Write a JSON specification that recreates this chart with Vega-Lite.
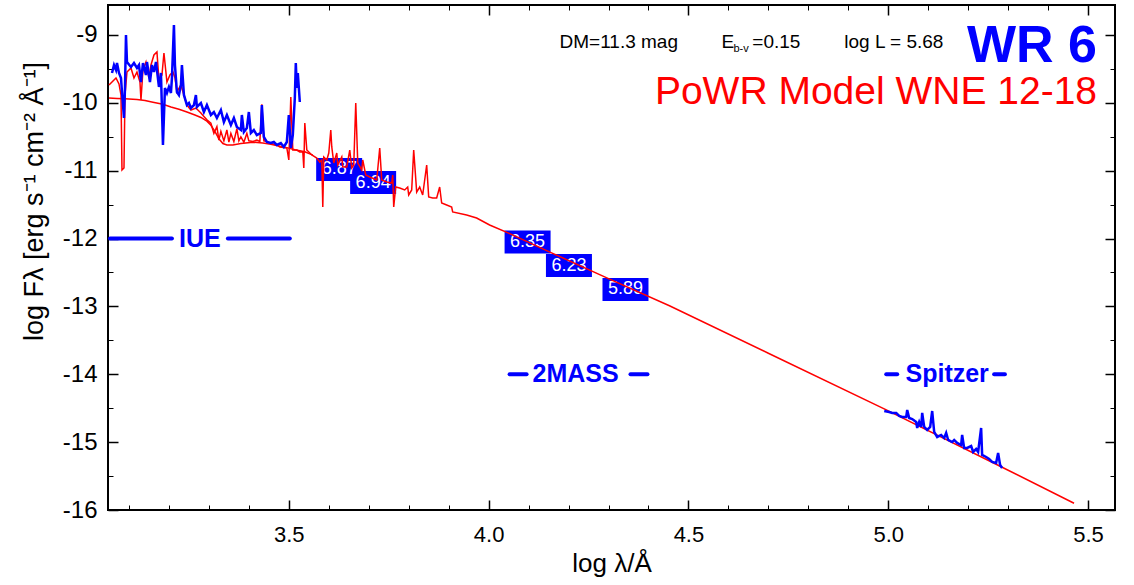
{
  "$schema": "https://vega.github.io/schema/vega-lite/v6.json",
  "width": 1007,
  "height": 505,
  "autosize": {"type": "none"},
  "padding": {"left": 108, "top": 5, "right": 19, "bottom": 75},
  "background": "white",
  "config": {
    "font": "Liberation Sans",
    "view": {"stroke": "#000000", "strokeWidth": 2},
    "axis": {"grid": false, "domain": false, "tickColor": "#000000", "labelColor": "#000000", "titleColor": "#000000", "labelFont": "Liberation Sans", "titleFont": "Liberation Sans"}
  },
  "datasets": {
    "cont": [
      {"x": 3.05, "y": -9.93}, {"x": 3.07, "y": -9.935}, {"x": 3.09, "y": -9.94}, {"x": 3.12, "y": -9.95},
      {"x": 3.14, "y": -9.965}, {"x": 3.16, "y": -9.99}, {"x": 3.185, "y": -10.02}, {"x": 3.205, "y": -10.06},
      {"x": 3.225, "y": -10.095}, {"x": 3.245, "y": -10.135}, {"x": 3.265, "y": -10.18}, {"x": 3.28, "y": -10.215},
      {"x": 3.295, "y": -10.27}, {"x": 3.305, "y": -10.33}, {"x": 3.315, "y": -10.42}, {"x": 3.325, "y": -10.53},
      {"x": 3.335, "y": -10.6}, {"x": 3.345, "y": -10.62}, {"x": 3.36, "y": -10.62}, {"x": 3.38, "y": -10.6},
      {"x": 3.41, "y": -10.58}, {"x": 3.435, "y": -10.59}, {"x": 3.455, "y": -10.61}, {"x": 3.475, "y": -10.635},
      {"x": 3.495, "y": -10.66}, {"x": 3.515, "y": -10.69}, {"x": 3.54, "y": -10.72}, {"x": 3.56, "y": -10.77}
    ],
    "model": [
      {"x": 3.05, "y": -9.737}, {"x": 3.0575, "y": -9.693}, {"x": 3.0675, "y": -9.634}, {"x": 3.075, "y": -9.722},
      {"x": 3.08, "y": -9.884}, {"x": 3.0825, "y": -10.989}, {"x": 3.0875, "y": -10.96}, {"x": 3.09, "y": -9.884},
      {"x": 3.095, "y": -9.545}, {"x": 3.105, "y": -9.486}, {"x": 3.1125, "y": -9.634}, {"x": 3.12, "y": -9.545},
      {"x": 3.1275, "y": -9.693}, {"x": 3.13, "y": -9.958}, {"x": 3.135, "y": -9.516}, {"x": 3.1425, "y": -9.398},
      {"x": 3.15, "y": -9.634}, {"x": 3.155, "y": -9.442}, {"x": 3.1625, "y": -9.295}, {"x": 3.17, "y": -9.25},
      {"x": 3.175, "y": -9.663}, {"x": 3.1825, "y": -9.59}, {"x": 3.1875, "y": -9.265}, {"x": 3.195, "y": -9.693},
      {"x": 3.2025, "y": -9.59}, {"x": 3.21, "y": -9.545}, {"x": 3.215, "y": -9.63}, {"x": 3.22, "y": -9.84},
      {"x": 3.23, "y": -9.737}, {"x": 3.2375, "y": -9.884}, {"x": 3.245, "y": -10.032}, {"x": 3.255, "y": -10.105},
      {"x": 3.2675, "y": -10.076}, {"x": 3.28, "y": -10.15}, {"x": 3.2875, "y": -10.2}, {"x": 3.295, "y": -10.25},
      {"x": 3.305, "y": -10.3}, {"x": 3.3125, "y": -10.45}, {"x": 3.32, "y": -10.35}, {"x": 3.325, "y": -10.55},
      {"x": 3.33, "y": -10.42}, {"x": 3.3375, "y": -10.56}, {"x": 3.345, "y": -10.4}, {"x": 3.35, "y": -10.58},
      {"x": 3.355, "y": -10.45}, {"x": 3.3625, "y": -10.57}, {"x": 3.37, "y": -10.38}, {"x": 3.375, "y": -10.56},
      {"x": 3.38, "y": -10.5}, {"x": 3.3875, "y": -10.58}, {"x": 3.395, "y": -10.45}, {"x": 3.4, "y": -10.56},
      {"x": 3.41, "y": -10.57}, {"x": 3.42, "y": -10.55}, {"x": 3.4275, "y": -10.57}, {"x": 3.4325, "y": -10.02},
      {"x": 3.4375, "y": -10.56}, {"x": 3.445, "y": -10.57}, {"x": 3.455, "y": -10.6}, {"x": 3.47, "y": -10.62},
      {"x": 3.4775, "y": -10.65}, {"x": 3.495, "y": -10.665}, {"x": 3.5, "y": -10.842}, {"x": 3.505, "y": -9.914},
      {"x": 3.51, "y": -10.695}, {"x": 3.52, "y": -10.695}, {"x": 3.5275, "y": -10.724}, {"x": 3.535, "y": -10.724},
      {"x": 3.5375, "y": -10.96}, {"x": 3.54, "y": -10.297}, {"x": 3.545, "y": -10.695}, {"x": 3.5575, "y": -10.768},
      {"x": 3.57, "y": -10.813}, {"x": 3.5775, "y": -10.872}, {"x": 3.5825, "y": -10.842}, {"x": 3.585, "y": -11.535},
      {"x": 3.5875, "y": -10.798}, {"x": 3.595, "y": -10.842}, {"x": 3.6, "y": -10.739}, {"x": 3.605, "y": -10.4},
      {"x": 3.6075, "y": -10.65}, {"x": 3.6125, "y": -10.886}, {"x": 3.62, "y": -10.739}, {"x": 3.6225, "y": -10.916},
      {"x": 3.6325, "y": -10.798}, {"x": 3.635, "y": -10.945}, {"x": 3.645, "y": -10.945}, {"x": 3.6525, "y": -10.695},
      {"x": 3.6575, "y": -10.96}, {"x": 3.6625, "y": -10.916}, {"x": 3.6675, "y": -10.002}, {"x": 3.6725, "y": -10.886},
      {"x": 3.6825, "y": -10.989}, {"x": 3.685, "y": -10.842}, {"x": 3.6925, "y": -11.063}, {"x": 3.7025, "y": -11.093},
      {"x": 3.72, "y": -11.137}, {"x": 3.7275, "y": -10.665}, {"x": 3.7325, "y": -11.137}, {"x": 3.745, "y": -11.166},
      {"x": 3.7575, "y": -11.181}, {"x": 3.76, "y": -11.063}, {"x": 3.7625, "y": -11.535}, {"x": 3.7675, "y": -11.24},
      {"x": 3.7775, "y": -11.255}, {"x": 3.79, "y": -11.284}, {"x": 3.7975, "y": -11.24}, {"x": 3.8, "y": -11.358},
      {"x": 3.8075, "y": -11.284}, {"x": 3.8125, "y": -10.695}, {"x": 3.82, "y": -11.314}, {"x": 3.8275, "y": -11.24},
      {"x": 3.835, "y": -11.358}, {"x": 3.845, "y": -10.916}, {"x": 3.85, "y": -11.387}, {"x": 3.86, "y": -11.402},
      {"x": 3.87, "y": -11.402}, {"x": 3.8775, "y": -11.24}, {"x": 3.8825, "y": -11.476}, {"x": 3.895, "y": -11.505},
      {"x": 3.9075, "y": -11.535}, {"x": 3.91, "y": -11.608}, {"x": 3.945, "y": -11.652}, {"x": 3.97, "y": -11.697},
      {"x": 4.0025, "y": -11.8}, {"x": 4.05, "y": -11.92}, {"x": 4.1575, "y": -12.21}, {"x": 4.3, "y": -12.59},
      {"x": 4.4525, "y": -12.99}, {"x": 4.7, "y": -13.69}, {"x": 4.99, "y": -14.51}, {"x": 5.285, "y": -15.37},
      {"x": 5.465, "y": -15.9}
    ],
    "iue": [
      {"x": 3.0575, "y": -9.56}, {"x": 3.0625, "y": -9.442}, {"x": 3.0675, "y": -9.516}, {"x": 3.07, "y": -9.413},
      {"x": 3.075, "y": -9.56}, {"x": 3.08, "y": -9.634}, {"x": 3.0825, "y": -9.84}, {"x": 3.0875, "y": -10.223},
      {"x": 3.09, "y": -9.781}, {"x": 3.0925, "y": -9.0}, {"x": 3.095, "y": -9.398}, {"x": 3.105, "y": -9.472},
      {"x": 3.1125, "y": -9.413}, {"x": 3.12, "y": -9.486}, {"x": 3.125, "y": -9.442}, {"x": 3.13, "y": -9.693},
      {"x": 3.135, "y": -9.413}, {"x": 3.1425, "y": -9.59}, {"x": 3.145, "y": -9.398}, {"x": 3.1525, "y": -9.693},
      {"x": 3.1575, "y": -9.442}, {"x": 3.1625, "y": -9.545}, {"x": 3.1675, "y": -9.398}, {"x": 3.17, "y": -9.516},
      {"x": 3.175, "y": -9.766}, {"x": 3.18, "y": -9.56}, {"x": 3.185, "y": -10.621}, {"x": 3.19, "y": -9.781},
      {"x": 3.195, "y": -9.855}, {"x": 3.2, "y": -9.766}, {"x": 3.205, "y": -9.855}, {"x": 3.2075, "y": -9.634},
      {"x": 3.2125, "y": -8.853}, {"x": 3.215, "y": -9.442}, {"x": 3.22, "y": -9.84}, {"x": 3.225, "y": -9.884},
      {"x": 3.23, "y": -9.737}, {"x": 3.2325, "y": -9.442}, {"x": 3.2375, "y": -9.884}, {"x": 3.245, "y": -10.032},
      {"x": 3.25, "y": -10.002}, {"x": 3.255, "y": -10.076}, {"x": 3.2625, "y": -10.032}, {"x": 3.2675, "y": -9.884},
      {"x": 3.27, "y": -10.061}, {"x": 3.28, "y": -10.002}, {"x": 3.2875, "y": -10.135}, {"x": 3.295, "y": -10.032},
      {"x": 3.305, "y": -10.179}, {"x": 3.3125, "y": -10.135}, {"x": 3.32, "y": -10.223}, {"x": 3.33, "y": -10.105},
      {"x": 3.3375, "y": -10.282}, {"x": 3.345, "y": -10.179}, {"x": 3.355, "y": -10.326}, {"x": 3.3625, "y": -10.223},
      {"x": 3.37, "y": -10.356}, {"x": 3.38, "y": -10.4}, {"x": 3.3825, "y": -10.179}, {"x": 3.3875, "y": -10.43},
      {"x": 3.395, "y": -10.37}, {"x": 3.4, "y": -10.135}, {"x": 3.405, "y": -10.444}, {"x": 3.4125, "y": -10.4},
      {"x": 3.42, "y": -10.474}, {"x": 3.43, "y": -10.444}, {"x": 3.4325, "y": -10.032}, {"x": 3.4375, "y": -10.503},
      {"x": 3.445, "y": -10.577}, {"x": 3.455, "y": -10.592}, {"x": 3.4625, "y": -10.577}, {"x": 3.47, "y": -10.621},
      {"x": 3.48, "y": -10.592}, {"x": 3.4875, "y": -10.65}, {"x": 3.495, "y": -10.577}, {"x": 3.5, "y": -10.179},
      {"x": 3.505, "y": -10.665}, {"x": 3.51, "y": -10.474}, {"x": 3.515, "y": -9.928}, {"x": 3.5175, "y": -9.413},
      {"x": 3.52, "y": -9.781}, {"x": 3.5225, "y": -9.56}, {"x": 3.5275, "y": -9.987}
    ],
    "spitzer": [
      {"x": 4.99, "y": -14.541}, {"x": 5.0025, "y": -14.556}, {"x": 5.01, "y": -14.57}, {"x": 5.02, "y": -14.57},
      {"x": 5.0275, "y": -14.614}, {"x": 5.035, "y": -14.629}, {"x": 5.045, "y": -14.629}, {"x": 5.0475, "y": -14.526},
      {"x": 5.0525, "y": -14.644}, {"x": 5.06, "y": -14.659}, {"x": 5.07, "y": -14.703}, {"x": 5.0725, "y": -14.791},
      {"x": 5.0775, "y": -14.703}, {"x": 5.0825, "y": -14.777}, {"x": 5.085, "y": -14.57}, {"x": 5.09, "y": -14.777},
      {"x": 5.0975, "y": -14.821}, {"x": 5.105, "y": -14.777}, {"x": 5.11, "y": -14.541}, {"x": 5.115, "y": -14.85},
      {"x": 5.1225, "y": -14.924}, {"x": 5.1325, "y": -14.894}, {"x": 5.14, "y": -14.939}, {"x": 5.145, "y": -14.865},
      {"x": 5.15, "y": -14.968}, {"x": 5.16, "y": -14.998}, {"x": 5.165, "y": -14.968}, {"x": 5.1725, "y": -15.012},
      {"x": 5.1825, "y": -15.042}, {"x": 5.185, "y": -14.894}, {"x": 5.19, "y": -15.086}, {"x": 5.1975, "y": -15.086},
      {"x": 5.2075, "y": -15.057}, {"x": 5.2125, "y": -15.145}, {"x": 5.22, "y": -15.101}, {"x": 5.225, "y": -15.145},
      {"x": 5.2325, "y": -14.791}, {"x": 5.235, "y": -15.189}, {"x": 5.245, "y": -15.219}, {"x": 5.2525, "y": -15.248},
      {"x": 5.26, "y": -15.292}, {"x": 5.27, "y": -15.307}, {"x": 5.275, "y": -15.16}, {"x": 5.28, "y": -15.337},
      {"x": 5.285, "y": -15.381}
    ],
    "phot": [
      {"x": 3.626, "y": -10.982, "mag": "6.87"},
      {"x": 3.711, "y": -11.174, "mag": "6.94"},
      {"x": 4.0975, "y": -12.05, "mag": "6.35"},
      {"x": 4.201, "y": -12.397, "mag": "6.23"},
      {"x": 4.3425, "y": -12.75, "mag": "5.89"}
    ],
    "segs": [
      {"x1": 3.0525, "x2": 3.2075, "y": -12.0}, {"x1": 3.3475, "x2": 3.5025, "y": -12.0},
      {"x1": 4.0525, "x2": 4.095, "y": -14.0}, {"x1": 4.355, "x2": 4.3975, "y": -14.0},
      {"x1": 4.995, "x2": 5.0225, "y": -14.0}, {"x1": 5.265, "x2": 5.292, "y": -14.0}
    ],
    "insts": [
      {"x": 3.2775, "y": -12.0, "name": "IUE"},
      {"x": 4.2175, "y": -14.0, "name": "2MASS"},
      {"x": 5.1475, "y": -14.0, "name": "Spitzer"}
    ],
    "params": [
      {"x": 4.1775, "y": -9.192, "t": "DM=11.3 mag"},
      {"x": 4.66, "y": -9.192, "t": "=0.15"},
      {"x": 4.89, "y": -9.192, "t": "log L = 5.68"}
    ]
  },
  "resolve": {"scale": {"x": "shared", "y": "shared"}, "axis": {"x": "independent", "y": "independent"}},
  "layer": [
    {
      "data": {"name": "phot"},
      "mark": {"type": "rect", "width": 46, "height": 23, "color": "#0000ff"},
      "encoding": {
        "x": {"field": "x", "type": "quantitative", "scale": {"domain": [3.0475, 5.5675], "nice": false, "zero": false}, "axis": null},
        "y": {"field": "y", "type": "quantitative", "scale": {"domain": [-16, -8.558], "nice": false, "zero": false}, "axis": null}
      }
    },
    {
      "data": {"name": "phot"},
      "mark": {"type": "text", "color": "#ffffff", "fontSize": 18, "align": "center", "baseline": "middle"},
      "encoding": {
        "x": {"field": "x", "type": "quantitative", "axis": null},
        "y": {"field": "y", "type": "quantitative", "axis": null},
        "text": {"field": "mag"}
      }
    },
    {
      "data": {"name": "cont"},
      "mark": {"type": "line", "color": "#ff0000", "strokeWidth": 1.5},
      "encoding": {
        "x": {"field": "x", "type": "quantitative", "axis": {"orient": "bottom", "values": [3.5, 4, 4.5, 5, 5.5], "format": ".1f", "tickSize": -10, "tickWidth": 1.5, "labelPadding": 24, "labelFontSize": 22, "title": "log λ/Å", "titleFontSize": 26, "titleFontWeight": "normal", "titlePadding": 5}},
        "y": {"field": "y", "type": "quantitative", "axis": {"orient": "left", "values": [-16, -15, -14, -13, -12, -11, -10, -9], "labelExpr": "(datum.value < 0 ? '-' : '') + abs(datum.value)", "tickSize": -10, "tickWidth": 1.5, "labelPadding": 21, "labelFontSize": 24, "title": "log Fλ  [erg s⁻¹  cm⁻²  Å⁻¹]", "titleFontSize": 27, "titleFontWeight": "normal", "titleX": -74, "titleY": 196, "titleAngle": 270, "titleAlign": "center", "titleBaseline": "middle"}}
      }
    },
    {
      "data": {"name": "model"},
      "mark": {"type": "line", "color": "#ff0000", "strokeWidth": 1.5},
      "encoding": {
        "x": {"field": "x", "type": "quantitative", "axis": {"orient": "bottom", "values": [3.1, 3.2, 3.3, 3.4, 3.6, 3.7, 3.8, 3.9, 4.1, 4.2, 4.3, 4.4, 4.6, 4.7, 4.8, 4.9, 5.1, 5.2, 5.3, 5.4], "tickSize": -5, "tickWidth": 1, "labels": false, "title": null}},
        "y": {"field": "y", "type": "quantitative", "axis": {"orient": "left", "values": [-15.5, -14.5, -13.5, -12.5, -11.5, -10.5, -9.5], "tickSize": -5, "tickWidth": 1, "labels": false, "title": null}}
      }
    },
    {
      "data": {"name": "iue"},
      "mark": {"type": "line", "color": "#0000ff", "strokeWidth": 2.5},
      "encoding": {
        "x": {"field": "x", "type": "quantitative", "axis": {"orient": "top", "values": [3.5, 4, 4.5, 5, 5.5], "tickSize": -10, "tickWidth": 1.5, "labels": false, "title": null}},
        "y": {"field": "y", "type": "quantitative", "axis": {"orient": "right", "values": [-16, -15, -14, -13, -12, -11, -10, -9], "tickSize": -10, "tickWidth": 1.5, "labels": false, "title": null}}
      }
    },
    {
      "data": {"name": "spitzer"},
      "mark": {"type": "line", "color": "#0000ff", "strokeWidth": 2.5},
      "encoding": {
        "x": {"field": "x", "type": "quantitative", "axis": {"orient": "top", "values": [3.1, 3.2, 3.3, 3.4, 3.6, 3.7, 3.8, 3.9, 4.1, 4.2, 4.3, 4.4, 4.6, 4.7, 4.8, 4.9, 5.1, 5.2, 5.3, 5.4], "tickSize": -5, "tickWidth": 1, "labels": false, "title": null}},
        "y": {"field": "y", "type": "quantitative", "axis": {"orient": "right", "values": [-15.5, -14.5, -13.5, -12.5, -11.5, -10.5, -9.5], "tickSize": -5, "tickWidth": 1, "labels": false, "title": null}}
      }
    },
    {
      "data": {"name": "segs"},
      "mark": {"type": "rule", "color": "#0000ff", "strokeWidth": 4, "strokeCap": "round"},
      "encoding": {
        "x": {"field": "x1", "type": "quantitative", "axis": null},
        "x2": {"field": "x2"},
        "y": {"field": "y", "type": "quantitative", "axis": null}
      }
    },
    {
      "data": {"name": "insts"},
      "mark": {"type": "text", "color": "#0000ff", "fontSize": 25, "fontWeight": "bold", "align": "center", "baseline": "middle"},
      "encoding": {
        "x": {"field": "x", "type": "quantitative", "axis": null},
        "y": {"field": "y", "type": "quantitative", "axis": null},
        "text": {"field": "name"}
      }
    },
    {
      "data": {"name": "params"},
      "mark": {"type": "text", "color": "#000000", "fontSize": 19, "align": "left", "baseline": "alphabetic"},
      "encoding": {
        "x": {"field": "x", "type": "quantitative", "axis": null},
        "y": {"field": "y", "type": "quantitative", "axis": null},
        "text": {"field": "t"}
      }
    },
    {
      "data": {"values": [{"x": 4.5825, "y": -9.192, "t": "E"}]},
      "mark": {"type": "text", "color": "#000000", "fontSize": 19, "align": "left", "baseline": "alphabetic"},
      "encoding": {
        "x": {"field": "x", "type": "quantitative", "axis": null},
        "y": {"field": "y", "type": "quantitative", "axis": null},
        "text": {"field": "t"}
      }
    },
    {
      "data": {"values": [{"x": 4.6125, "y": -9.245, "t": "b-v"}]},
      "mark": {"type": "text", "color": "#000000", "fontSize": 11, "align": "left", "baseline": "alphabetic"},
      "encoding": {
        "x": {"field": "x", "type": "quantitative", "axis": null},
        "y": {"field": "y", "type": "quantitative", "axis": null},
        "text": {"field": "t"}
      }
    },
    {
      "data": {"values": [{"x": 5.5225, "y": -9.398, "t": "WR 6"}]},
      "mark": {"type": "text", "color": "#0000ff", "fontSize": 52, "fontWeight": "bold", "align": "right", "baseline": "alphabetic"},
      "encoding": {
        "x": {"field": "x", "type": "quantitative", "axis": null},
        "y": {"field": "y", "type": "quantitative", "axis": null},
        "text": {"field": "t"}
      }
    },
    {
      "data": {"values": [{"x": 5.5225, "y": -10.01, "t": "PoWR Model WNE 12-18"}]},
      "mark": {"type": "text", "color": "#ff0000", "fontSize": 39, "align": "right", "baseline": "alphabetic"},
      "encoding": {
        "x": {"field": "x", "type": "quantitative", "axis": null},
        "y": {"field": "y", "type": "quantitative", "axis": null},
        "text": {"field": "t"}
      }
    }
  ]
}
